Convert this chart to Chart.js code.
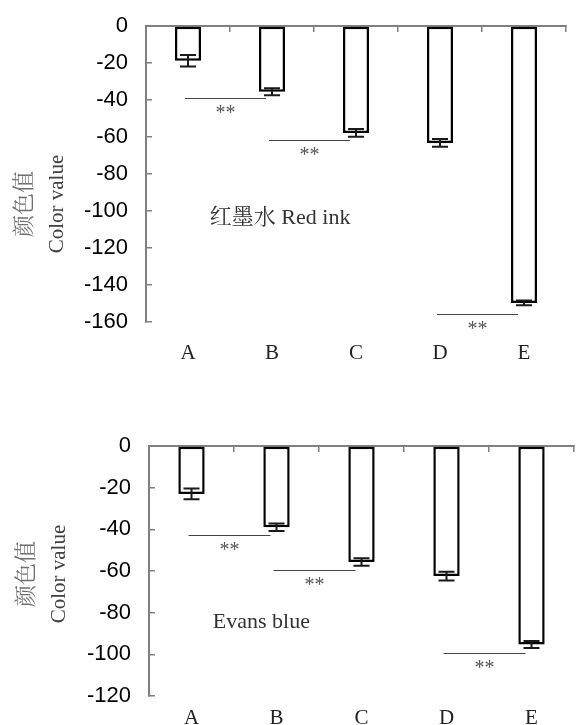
<!DOCTYPE html>
<html>
<head>
<meta charset="utf-8">
<script src="https://cdn.jsdelivr.net/npm/chart.js@4.4.0/dist/chart.umd.min.js"></script>
<style>
  body { margin: 0; background: #fff; }
  .panel { position: absolute; left: 0; width: 576px; }
  #top { top: 0; height: 370px; }
  #bottom { top: 370px; height: 355px; }
</style>
</head>
<body>
<div class="panel" id="top"><canvas id="redChart"></canvas></div>
<div class="panel" id="bottom"><canvas id="blueChart"></canvas></div>
<script>
const categories = ["A", "B", "C", "D", "E"];
const yTitle = ["颜色值", "Color value"];

// 红墨水 Red ink
const redValues = [-18.8, -35.5, -57.8, -63.2, -149.7];
const redErrors = [3.1, 1.9, 2.1, 2.1, 1.3];
const redSigFrom = [0, 1, 3];
const redSigTo = [1, 2, 4];
const redSigY = [-38.7, -61.8, -155.8];

// Evans blue
const blueValues = [-23, -39, -55.7, -62.4, -95.3];
const blueErrors = [2.6, 1.8, 1.8, 2.1, 1.7];
const blueSigFrom = [0, 1, 3];
const blueSigTo = [1, 2, 4];
const blueSigY = [-42.5, -59.3, -99.4];

const axisGray = "#808080";
const serif = "'Liberation Serif', 'Times New Roman', serif";
const cjk = "'Noto Serif CJK SC', 'Noto Sans CJK SC', sans-serif";

// error bars, ** lines, label text and the y title
function makeOverlay(s) {
  return {
    id: "overlay",
    afterDatasetsDraw(chart) {
      const ctx = chart.ctx;
      const x = chart.scales.x;
      const y = chart.scales.y;
      const meta = chart.getDatasetMeta(0);
      ctx.save();

      ctx.strokeStyle = "#1a1a1a";
      ctx.lineWidth = 2;
      s.errors.forEach((e, i) => {
        const v = s.values[i];
        const cx = meta.data[i].x;
        const y1 = y.getPixelForValue(v + e);
        const y2 = y.getPixelForValue(v - e);
        ctx.beginPath();
        ctx.moveTo(cx, y1); ctx.lineTo(cx, y2);
        ctx.moveTo(cx - 8, y1); ctx.lineTo(cx + 8, y1);
        ctx.moveTo(cx - 8, y2); ctx.lineTo(cx + 8, y2);
        ctx.stroke();
      });

      ctx.strokeStyle = "#444";
      ctx.lineWidth = 1.2;
      ctx.fillStyle = "#555";
      ctx.font = "20px " + serif;
      ctx.textAlign = "center";
      ctx.textBaseline = "alphabetic";
      s.sigY.forEach((v, i) => {
        const x1 = x.getPixelForValue(s.sigFrom[i]) - 3;
        const x2 = x.getPixelForValue(s.sigTo[i]) - 6;
        const py = Math.round(y.getPixelForValue(v)) + 0.5;
        ctx.beginPath();
        ctx.moveTo(x1, py); ctx.lineTo(x2, py);
        ctx.stroke();
        ctx.fillText("**", (x1 + x2) / 2, py + 20);
      });

      ctx.fillStyle = "#333";
      ctx.font = "22px " + serif + ", " + cjk;
      ctx.textAlign = "left";
      ctx.textBaseline = "middle";
      ctx.fillText(s.note, x.getPixelForValue(s.noteAt[0]), y.getPixelForValue(s.noteAt[1]));
      ctx.restore();
    },
    afterDraw(chart) {
      const ctx = chart.ctx;
      const fonts = ["22px " + cjk, "21px " + serif];
      const colors = ["#707070", "#404040"];
      ctx.save();
      yTitle.forEach((t, i) => {
        ctx.save();
        ctx.translate(s.titleX[i], s.titleY);
        ctx.rotate(-Math.PI / 2);
        ctx.font = fonts[i];
        ctx.fillStyle = colors[i];
        ctx.textAlign = "center";
        ctx.textBaseline = "middle";
        ctx.fillText(t, 0, 0);
        ctx.restore();
      });
      ctx.restore();
    }
  };
}

function makeChart(id, s) {
  return new Chart(document.getElementById(id), {
    type: "bar",
    data: {
      labels: categories,
      datasets: [{
        data: s.values,
        backgroundColor: "#fff",
        borderColor: "#000",
        borderWidth: 2.5,
        borderSkipped: false,
        categoryPercentage: 1,
        barPercentage: 0.31
      }]
    },
    options: {
      responsive: true,
      maintainAspectRatio: false,
      animation: false,
      layout: { padding: { left: 0, right: s.padRight, top: 0, bottom: 0 } },
      plugins: { legend: { display: false }, tooltip: { enabled: false } },
      scales: {
        x: {
          position: "bottom",
          grid: { display: false, drawTicks: false },
          border: { display: false },
          ticks: { padding: s.labelPad, color: "#222", font: { family: serif, size: 21 } },
          afterFit: sc => { sc.height = s.bottomH; }
        },
        x2: {
          type: "category",
          labels: categories,
          position: "top",
          offset: true,
          grid: { offset: true, drawOnChartArea: false, tickLength: -6, color: axisGray, lineWidth: 1.5 },
          border: { color: axisGray, width: 2 },
          ticks: { display: false },
          afterFit: sc => { sc.height = s.topH; }
        },
        y: {
          min: s.min,
          max: 0,
          ticks: { stepSize: 20, padding: 24, color: "#000", font: { family: "'Liberation Sans', Arial, sans-serif", size: 22 } },
          grid: { drawOnChartArea: false, tickLength: -6, color: axisGray, lineWidth: 1.5 },
          border: { color: axisGray, width: 2 },
          afterFit: sc => {
            sc.width = s.leftW;
            sc.paddingTop = 0;
            sc.paddingBottom = 0;
          }
        }
      }
    },
    plugins: [makeOverlay(s)]
  });
}

makeChart("redChart", {
  values: redValues, errors: redErrors,
  sigFrom: redSigFrom, sigTo: redSigTo, sigY: redSigY,
  min: -160, note: "红墨水 Red ink", noteAt: [0.26, -104],
  leftW: 146, padRight: 10, topH: 26, bottomH: 48, labelPad: 19,
  titleX: [23, 57], titleY: 204
});

makeChart("blueChart", {
  values: blueValues, errors: blueErrors,
  sigFrom: blueSigFrom, sigTo: blueSigTo, sigY: blueSigY,
  min: -120, note: "Evans blue", noteAt: [0.25, -84.5],
  leftW: 149, padRight: 2, topH: 76, bottomH: 29, labelPad: 10,
  titleX: [25, 59], titleY: 204
});
</script>
</body>
</html>
